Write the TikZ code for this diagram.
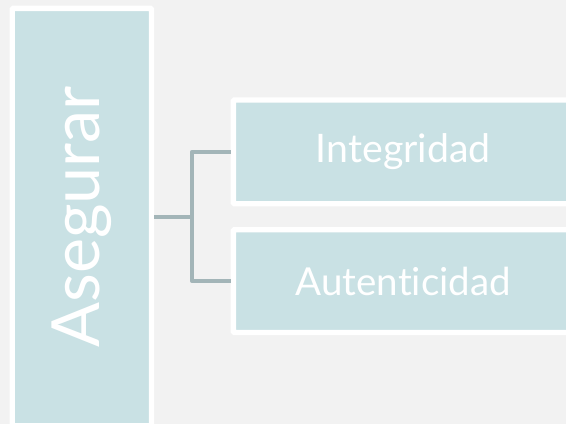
\documentclass[tikz,border=0pt]{standalone}
\usepackage{fontspec}
\setmainfont{Lato}[Ligatures=NoCommon]
\definecolor{bgc}{HTML}{F2F2F2}
\definecolor{boxc}{HTML}{C9E1E4}
\definecolor{linec}{HTML}{A3B5B8}
\tikzset{
  boxnode/.style={draw=white, line width=5.3pt, fill=boxc, rectangle, inner sep=0pt, outer sep=2.65pt, text=white, rounded corners=1pt},
  conn/.style={draw=linec, line width=4pt, line join=round, line cap=butt}
}
\begin{document}
\begin{tikzpicture}[x=1pt,y=-1pt]
\fill[bgc] (0,0) rectangle (566,424);
\useasboundingbox (0,0) rectangle (566,424);
\node[boxnode, minimum width=139.2pt, minimum height=417.3pt, font=\fontsize{66.5}{80}\selectfont] (left) at (81.9,217) {\rotatebox{90}{Asegurar}};
\node[boxnode, minimum width=340pt, minimum height=103.9pt, font=\fontsize{39.3}{47}\selectfont] (top) at (403.35,151.85) {Integridad};
\node[boxnode, minimum width=340pt, minimum height=102.8pt, font=\fontsize{38.5}{47}\selectfont] (bot) at (403.35,281.1) {Autenticidad};
\coordinate (j) at (192,217);
\draw[conn] (left.east) -- (j);
\draw[conn] (top.west) -| (j) |- (bot.west);
\end{tikzpicture}
\end{document}
